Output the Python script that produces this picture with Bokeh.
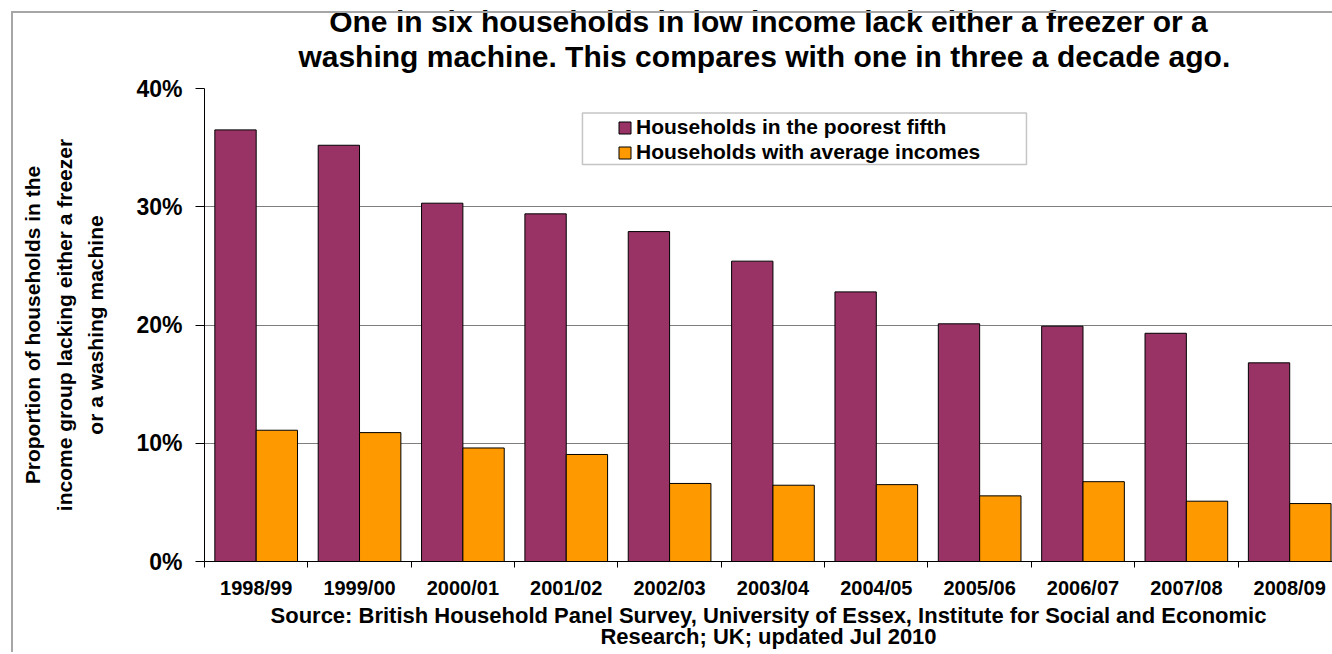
from bokeh.plotting import figure
from bokeh.models import (Range1d, FixedTicker, PrintfTickFormatter, Legend, LegendItem,
                          BoxAnnotation, ColumnDataSource, Title, InlineStyleSheet)
from bokeh.transform import dodge
from bokeh.embed import file_html
from bokeh.resources import INLINE

# ---- data ----
years = ["1998/99", "1999/00", "2000/01", "2001/02", "2002/03", "2003/04",
         "2004/05", "2005/06", "2006/07", "2007/08", "2008/09"]
poorest = [36.5, 35.2, 30.3, 29.4, 27.9, 25.4, 22.8, 20.1, 19.9, 19.3, 16.8]
average = [11.1, 10.9, 9.6, 9.05, 6.6, 6.45, 6.5, 5.55, 6.75, 5.1, 4.9]
y_ticks = [0, 10, 20, 30, 40]
series_names = ["Households in the poorest fifth", "Households with average incomes"]

title_line1 = "One in six households in low income lack either a freezer or a"
title_line2 = "washing machine.  This compares with one in three a decade ago."
y_label = ("Proportion of households in the\n"
           "income group lacking either a freezer\n"
           "or a washing machine")
source_text = ("Source: British Household Panel Survey, University of Essex, Institute for Social and Economic\n"
               "Research; UK; updated Jul 2010")

FONT = "Liberation Sans"
PURPLE = "#993366"
ORANGE = "#FF9900"

centers = [i + 0.5 for i in range(len(years))]
bounds = list(range(len(years) + 1))
src = ColumnDataSource(dict(x=centers, poorest=poorest, average=average))

x_end = 10.914
p = figure(width=1332, height=652,
           x_range=Range1d(0, x_end), y_range=Range1d(0, 40),
           output_backend="svg", toolbar_location=None,
           min_border_left=204, min_border_right=0,
           min_border_top=88, min_border_bottom=90)
p.stylesheets = [InlineStyleSheet(css=(
    ":host::after { content: ''; position: absolute; left: 11px; top: 11px; right: 0; bottom: 0;"
    " border-left: 2px solid #a6a6a6; border-top: 2px solid #a6a6a6; pointer-events: none; }"))]
p.outline_line_color = None
p.background_fill_color = "white"

# title: two centred lines (p.title is outermost; earlier-added panels sit nearer the frame)
def style_title(t, size, standoff, lh):
    t.align = "center"
    t.text_font = FONT
    t.text_font_size = size
    t.text_font_style = "bold"
    t.text_color = "black"
    t.text_line_height = lh
    t.standoff = standoff

p.title.text = title_line1
style_title(p.title, "30px", 0, 0.85)
gap = Title(text=" ")
style_title(gap, "1px", 13, 1.0)
p.add_layout(gap, "above")
t2 = Title(text=title_line2)
style_title(t2, "30px", 0, 0.85)
p.add_layout(t2, "above")

# bars
r1 = p.vbar(x=dodge("x", -0.2, range=p.x_range), top="poorest", width=0.4, source=src,
            fill_color=PURPLE, line_color="black", line_width=1)
r2 = p.vbar(x=dodge("x", 0.2, range=p.x_range), top="average", width=0.4, source=src,
            fill_color=ORANGE, line_color="black", line_width=1)

# grid
p.xgrid.visible = False
p.ygrid.ticker = FixedTicker(ticks=y_ticks)
p.ygrid.grid_line_color = "#7f7f7f"
p.ygrid.grid_line_width = 1

# y axis
ya = p.yaxis[0]
ya.ticker = FixedTicker(ticks=y_ticks)
ya.formatter = PrintfTickFormatter(format="%d%%")
ya.axis_line_color = "black"
ya.major_tick_out = 9
ya.major_tick_in = 0
ya.minor_tick_out = 0
ya.minor_tick_in = 0
ya.major_label_standoff = 13
ya.major_label_text_font = FONT
ya.major_label_text_font_size = "23px"
ya.major_label_text_font_style = "bold"
ya.major_label_text_color = "black"
ya.axis_label = y_label
ya.axis_label_text_font = FONT
ya.axis_label_text_font_size = "21px"
ya.axis_label_text_font_style = "bold"
ya.axis_label_text_color = "black"
ya.axis_label_text_line_height = 1.38
ya.axis_label_standoff = 26

# x axis (source note as the axis label)
xa = p.xaxis[0]
xa.ticker = FixedTicker(ticks=centers, minor_ticks=bounds)
xa.major_label_overrides = {c: y for c, y in zip(centers, years)}
xa.axis_line_color = "black"
xa.major_tick_out = 0
xa.major_tick_in = 0
xa.minor_tick_out = 6
xa.minor_tick_in = 0
xa.minor_tick_line_color = "black"
xa.major_label_standoff = 9
xa.major_label_text_font = FONT
xa.major_label_text_font_size = "20px"
xa.major_label_text_font_style = "bold"
xa.major_label_text_color = "black"
xa.axis_label = source_text
xa.axis_label_text_font = FONT
xa.axis_label_text_font_size = "22px"
xa.axis_label_text_font_style = "bold"
xa.axis_label_text_color = "black"
xa.axis_label_text_line_height = 0.87
xa.axis_label_standoff = 1

# legend frame and legend
box = BoxAnnotation(left=3.657, right=7.953, top=37.92, bottom=33.57,
                    fill_color="white", fill_alpha=1.0,
                    line_color="#404040", line_width=1.5)
p.add_layout(box)
legend = Legend(items=[LegendItem(label=series_names[0], renderers=[r1]),
                       LegendItem(label=series_names[1], renderers=[r2])],
                location=(413, 397), margin=0, padding=0,
                border_line_color=None, background_fill_alpha=0,
                glyph_width=15, glyph_height=15, label_height=22, spacing=1,
                label_standoff=4,
                label_text_font=FONT, label_text_font_size="21px",
                label_text_font_style="bold", label_text_color="black")
p.add_layout(legend, "center")

open("out.html", "w").write(file_html(p, INLINE))
